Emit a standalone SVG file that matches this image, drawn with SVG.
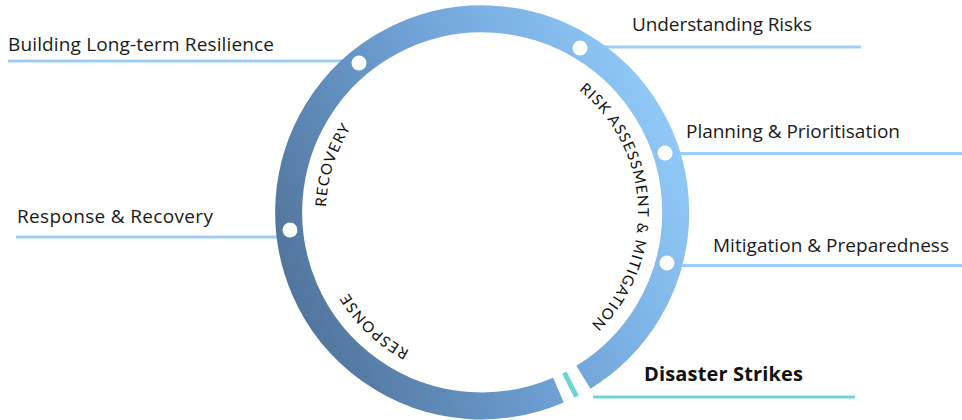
<svg xmlns="http://www.w3.org/2000/svg" width="962" height="420" viewBox="0 0 962 420">
<defs>
<linearGradient id="ringGrad" gradientUnits="userSpaceOnUse" x1="290" y1="340" x2="690" y2="170">
<stop offset="0" stop-color="#4f7197"/>
<stop offset="0.5" stop-color="#6d9fd3"/>
<stop offset="1" stop-color="#90c9f8"/>
</linearGradient>
<path id="textCircle" d="M 482 56.5 A 156 156 0 1 1 482 368.5 A 156 156 0 1 1 482 56.5"/>
</defs>
<style>
.lead{stroke:#9bcdf6;stroke-width:3;fill:none}
.label{font-family:"Open Sans",Lato,"Liberation Sans",sans-serif;font-size:19px;fill:#1a1a1a}
.strong{font-family:"Open Sans",Lato,"Liberation Sans",sans-serif;font-size:20px;font-weight:bold;fill:#111}
.phase{font-family:Lato,"Open Sans","Liberation Sans",sans-serif;font-size:15px;fill:#111}
.dot{fill:#fff}
</style>
<g id="connectors">
<line class="lead" x1="8" y1="61" x2="348" y2="61"/>
<line class="lead" x1="16" y1="237" x2="280" y2="237"/>
<line class="lead" x1="598" y1="47" x2="861" y2="47"/>
<line class="lead" x1="678" y1="153.5" x2="962" y2="153.5"/>
<line class="lead" x1="676" y1="265.5" x2="962" y2="265.5"/>
<line x1="593" y1="397" x2="855" y2="397" stroke="#72d4d6" stroke-width="3"/>
</g>
<g id="ring">
<path d="M 558.5 390.2 A 193.5 193.5 0 1 1 583.4 377.3" fill="none" stroke="url(#ringGrad)" stroke-width="27"/>
<line x1="564.3" y1="372.6" x2="576.6" y2="396.6" stroke="#72d4d6" stroke-width="5"/>
</g>
<g id="phase-risk">
<text class="phase"><textPath href="#textCircle" startOffset="24.17%" text-anchor="middle" textLength="265" lengthAdjust="spacing">RISK ASSESSMENT &amp; MITIGATION</textPath></text>
</g>
<g id="phase-recovery">
<text class="phase"><textPath href="#textCircle" startOffset="79.86%" text-anchor="middle" textLength="84" lengthAdjust="spacing">RECOVERY</textPath></text>
</g>
<g id="phase-response">
<text class="phase"><textPath href="#textCircle" startOffset="62.03%" text-anchor="middle" textLength="85" lengthAdjust="spacing">RESPONSE</textPath></text>
</g>
<g id="node-building">
<circle class="dot" cx="359" cy="63" r="7.5"/>
<text class="label" x="8" y="51" textLength="266" lengthAdjust="spacing">Building Long-term Resilience</text>
</g>
<g id="node-response">
<circle class="dot" cx="290" cy="230" r="7.5"/>
<text class="label" x="17" y="223" textLength="196" lengthAdjust="spacing">Response &amp; Recovery</text>
</g>
<g id="node-understanding">
<circle class="dot" cx="580" cy="48" r="7.5"/>
<text class="label" x="632" y="31" textLength="180" lengthAdjust="spacing">Understanding Risks</text>
</g>
<g id="node-planning">
<circle class="dot" cx="665" cy="153" r="7.5"/>
<text class="label" x="686" y="138" textLength="214" lengthAdjust="spacing">Planning &amp; Prioritisation</text>
</g>
<g id="node-mitigation">
<circle class="dot" cx="667" cy="263" r="7.5"/>
<text class="label" x="713" y="252" textLength="236" lengthAdjust="spacing">Mitigation &amp; Preparedness</text>
</g>
<g id="node-disaster">
<text class="strong" x="644" y="381" textLength="159" lengthAdjust="spacing">Disaster Strikes</text>
</g>
</svg>
